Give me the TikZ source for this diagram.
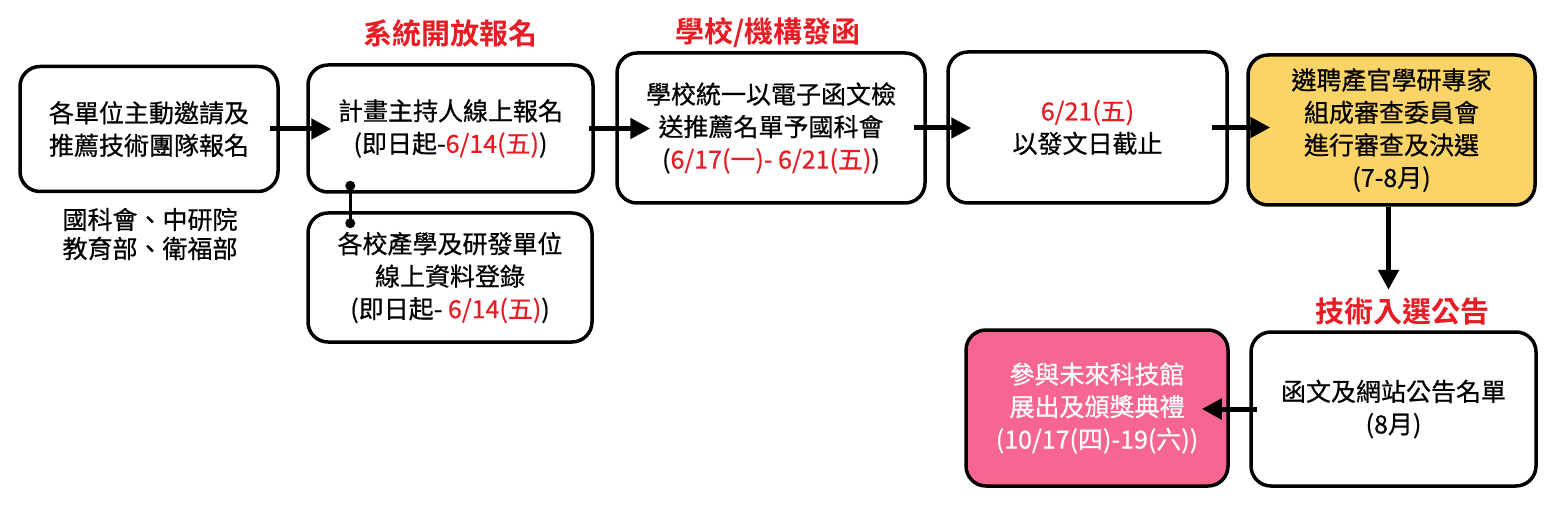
\documentclass[tikz,border=0pt]{standalone}
\usepackage{fontspec}
\setmainfont{Noto Sans CJK TC}[BoldFont={Noto Sans CJK TC Bold}]
\newfontfamily\boxfont{Noto Sans CJK TC}[FakeBold=0.6]
\usetikzlibrary{arrows.meta}
\definecolor{tred}{RGB}{232,28,36}
\definecolor{tyellow}{RGB}{250,212,102}
\definecolor{tpink}{RGB}{247,101,145}
\begin{document}
\begin{tikzpicture}[x=1pt,y=-1pt,
  box/.style={draw=black, line width=3.5pt, rounded corners=20pt, align=center, inner sep=0pt, font=\boxfont\fontsize{25}{32.5}\selectfont},
  arr/.style={line width=5pt, -{Triangle[length=20pt,width=20pt]}},
  ttl/.style={text=tred, font=\fontsize{29}{34}\selectfont\bfseries},
  plain/.style={align=center, font=\boxfont\fontsize{25}{29}\selectfont}
]
\useasboundingbox (0,0) rectangle (1555,505);
% titles
\node[ttl] (t1) at (450,33) {系統開放報名};
\node[ttl] (t2) at (768,33) {學校/機構發函};
\node[ttl] (t3) at (1402,312) {技術入選公告};
% top row
\node[box, minimum width=258pt, minimum height=125pt] (b1) at (149,129) {各單位主動邀請及\\推薦技術團隊報名};
\node[box, minimum width=285pt, minimum height=127pt] (b2) at (450.5,128.5) {計畫主持人線上報名\\(即日起-\textcolor{tred}{6/14(五)})};
\node[box, minimum width=308pt, minimum height=150pt] (b3) at (771,128) {學校統一以電子函文檢\\送推薦名單予國科會\\(\textcolor{tred}{6/17(一)- 6/21(五)})};
\node[box, minimum width=279pt, minimum height=151pt] (b4) at (1087.5,127.5) {\textcolor{tred}{6/21(五)}\\以發文日截止};
\node[box, fill=tyellow, minimum width=287pt, minimum height=150pt] (b5) at (1391.5,130) {遴聘產官學研專家\\組成審查委員會\\進行審查及決選\\(7-8月)};
% below box1
\node[plain] (org) at (150,234) {國科會、中研院\\教育部、衛福部};
% sub box
\node[box, minimum width=284pt, minimum height=129pt] (sub) at (450,277.5) {各校產學及研發單位\\線上資料登錄\\(即日起- \textcolor{tred}{6/14(五)})};
% bottom row
\node[box, minimum width=285pt, minimum height=154pt] (b6) at (1393.5,409) {函文及網站公告名單\\(8月)};
\node[box, fill=tpink, text=white, minimum width=262pt, minimum height=156pt] (b7) at (1097,408) {參與未來科技館\\展出及頒獎典禮\\(10/17(四)-19(六))};
% arrows
\draw[arr] ([xshift=-10pt]b1.east) -- ([xshift=25pt]b1.east -| b2.west);
\draw[arr] ([xshift=-6pt]b2.east) -- ([xshift=35pt]b2.east -| b3.west);
\draw[arr] ([xshift=-13pt]b3.east) -- ([xshift=25pt]b3.east -| b4.west);
\draw[arr] ([xshift=-17pt]b4.east) -- ([xshift=24pt]b4.east -| b5.west);
\draw[arr] ([xshift=-3pt]b5.south) -- ([xshift=-3pt,yshift=5pt]b5.south |- t3.north);
\draw[arr] ([xshift=8pt]b6.west) -- ([xshift=-28pt]b6.west -| b7.east);
% dot connector
\coordinate (d1) at ([shift={(44pt,8pt)}]b2.south west);
\coordinate (d2) at ([shift={(44pt,-12pt)}]sub.north west);
\draw[line width=3pt] (d1) -- (d2);
\fill (d1) circle (5pt);
\fill (d2) circle (5pt);
\end{tikzpicture}
\end{document}
